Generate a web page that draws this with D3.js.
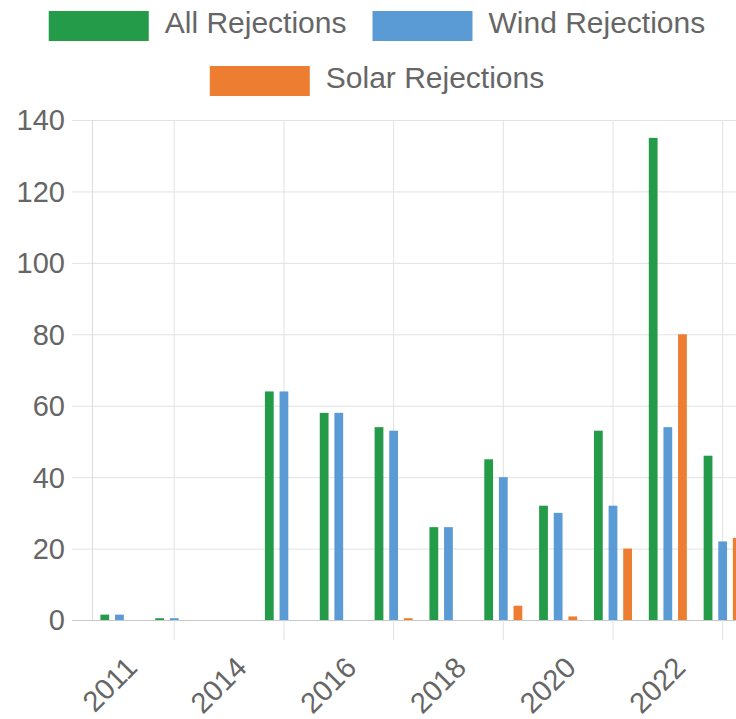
<!DOCTYPE html>
<html>
<head>
<meta charset="utf-8">
<script src="https://cdn.jsdelivr.net/npm/d3@7"></script>
<style>
  body { margin: 0; background: #fff; overflow: hidden; }
  text { font-family: "Liberation Sans", Arial, sans-serif; fill: #666; }
</style>
</head>
<body>
<div id="chart"></div>
<script>
// data
var years = ["2011", "2013", "2014", "2015", "2016", "2017", "2018", "2019", "2020", "2021", "2022", "2023"];
var allRejections = [1.5, 0.5, 0, 64, 58, 54, 26, 45, 32, 53, 135, 46];
var windRejections = [1.5, 0.5, 0, 64, 58, 53, 26, 40, 30, 32, 54, 22];
var solarRejections = [0, 0, 0, 0, 0, 0.5, 0, 4, 1, 20, 80, 23];
var seriesNames = ["All Rejections", "Wind Rejections", "Solar Rejections"];
var seriesColors = ["#239b48", "#5b9bd5", "#ed7d31"];
var yTicks = [0, 20, 40, 60, 80, 100, 120, 140];

var width = 736, height = 719;
var fontSize = 29;
var margin = {left: 92, top: 120, bottom: 99};
var plotW = 12 * 54.84;
var plotH = height - margin.top - margin.bottom;

var svg = d3.select("#chart").append("svg")
  .attr("width", width)
  .attr("height", height);

var data = years.map((y, i) => {
  return {year: y, values: [allRejections[i], windRejections[i], solarRejections[i]]};
});

var x0 = d3.scaleBand()
  .domain(years)
  .range([margin.left, margin.left + plotW])
  .padding(0);

var groupW = x0.bandwidth() * 0.8;
var x1 = d3.scaleBand()
  .domain(seriesNames)
  .range([-groupW / 2, groupW / 2])
  .padding(0);
var barW = x1.bandwidth() * 0.6;

var y = d3.scaleLinear()
  .domain([0, 140])
  .range([margin.top + plotH, margin.top]);

var grid = svg.append("g");
// horizontal grid + y ticks
grid.selectAll("line.h").data(yTicks).enter()
  .append("line")
  .attr("x1", margin.left - 20)
  .attr("x2", width)
  .attr("y1", (d) => y(d) + 0.5)
  .attr("y2", (d) => y(d) + 0.5)
  .attr("stroke", (d) => d === 0 ? "#c8c8c8" : "#e2e2e2")
  .attr("stroke-width", 1);

// vertical grid lines every other category
var gridYears = years.filter((d, i) => i % 2 === 1);
grid.selectAll("line.v").data(gridYears).enter()
  .append("line")
  .attr("x1", (d) => x0(d) + x0.bandwidth() / 2)
  .attr("x2", (d) => x0(d) + x0.bandwidth() / 2)
  .attr("y1", margin.top)
  .attr("y2", margin.top + plotH + 20)
  .attr("stroke", "#e2e2e2");

// y axis line
grid.append("line")
  .attr("x1", margin.left + 0.5).attr("x2", margin.left + 0.5)
  .attr("y1", margin.top).attr("y2", margin.top + plotH)
  .attr("stroke", "#dcdcdc");

// y labels
svg.append("g").selectAll("text").data(yTicks).enter()
  .append("text")
  .attr("x", 65)
  .attr("y", (d) => y(d))
  .attr("dy", "0.36em")
  .attr("text-anchor", "end")
  .attr("font-size", fontSize)
  .text((d) => d);

// x labels, every other category
var labelYears = years.filter((d, i) => i % 2 === 0);
svg.append("g").selectAll("text").data(labelYears).enter()
  .append("text")
  .attr("transform", (d) => "translate(" + (x0(d) + x0.bandwidth() / 2 + 12) + "," + (margin.top + plotH + 42) + ") rotate(-45)")
  .attr("dy", "0.36em")
  .attr("text-anchor", "end")
  .attr("font-size", fontSize)
  .text((d) => d);

// bars
var groups = svg.append("g").selectAll("g").data(data).enter()
  .append("g")
  .attr("transform", (d) => "translate(" + (x0(d.year) + x0.bandwidth() / 2) + ",0)");

groups.selectAll("rect")
  .data((d) => d.values.map((v, j) => ({name: seriesNames[j], value: v, color: seriesColors[j]})))
  .enter()
  .append("rect")
  .attr("x", (d) => x1(d.name) + (x1.bandwidth() - barW) / 2)
  .attr("y", (d) => y(d.value))
  .attr("width", barW)
  .attr("height", (d) => y(0) - y(d.value))
  .attr("fill", (d) => d.color);

// legend
var legendCenter = 377;
var rows = [[0, 1], [2]];
var rowBase = [33, 88];
rows.forEach((row, r) => {
  var lg = svg.append("g");
  var items = row.map((k) => {
    var t = lg.append("text")
      .attr("font-size", 30)
      .text(seriesNames[k]);
    return {k: k, t: t, w: t.node().getComputedTextLength()};
  });
  var total = d3.sum(items, (d) => 100 + 16 + d.w) + 26 * (items.length - 1);
  var xPos = legendCenter - total / 2;
  items.forEach((it) => {
    lg.append("rect")
      .attr("x", xPos)
      .attr("y", rowBase[r] - 22)
      .attr("width", 100)
      .attr("height", 30)
      .attr("fill", seriesColors[it.k]);
    it.t.attr("x", xPos + 116).attr("y", rowBase[r]);
    xPos += 100 + 16 + it.w + 26;
  });
});
</script>
</body>
</html>
